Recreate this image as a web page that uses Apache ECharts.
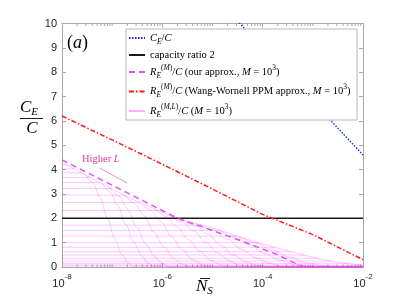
<!DOCTYPE html>
<html>
<head>
<meta charset="utf-8">
<script src="https://cdn.jsdelivr.net/npm/echarts@6/dist/echarts.min.js"></script>
<style>html,body{margin:0;padding:0;background:#fff}#c{width:395px;height:305px}</style>
</head>
<body>
<div id="c"></div>
<script>
// x values are log10(N_S)
const xTickExps = [-8, -6, -4, -2];
const yTicks = [0, 1, 2, 3, 4, 5, 6, 7, 8, 9, 10];
const ceOverC = [[-5, 11.2], [-4, 9.0], [-3, 6.8], [-2, 4.6]];
const capacityRatio = [[-8, 2], [-2, 2]];
const ourApprox = [[-8, 4.4], [-7, 3.36], [-6, 2.32], [-5.7, 2.0], [-5, 1.5], [-4.2, 0.9], [-3.7, 0.5], [-3.4, 0.2], [-3.2, 0.02]];
const wangWornell = [[-8, 6.2], [-7, 5.22], [-6, 4.22], [-5, 3.2], [-4, 2.16], [-3, 1.33], [-2, 0.3]];
const rmlEnvelope = [[-8, 4.3], [-7.5, 3.75], [-7, 3.2], [-6.5, 2.7], [-6, 2.25], [-5.7, 2.0], [-5, 1.6], [-4.2, 1.07], [-3.7, 0.78], [-3, 0.4], [-2.5, 0.2], [-2, 0.08]];
const rmlDrops = [
  [[-7.52,3.77],[-7.38,3.44],[-7.24,2.84],[-7.09,1.98],[-6.95,1.17],[-6.81,0.51],[-6.68,0.17],[-6.57,0],[-2,0]],
  [[-7.2,3.42],[-7.04,3.08],[-6.89,2.53],[-6.73,1.76],[-6.57,1.02],[-6.41,0.45],[-6.28,0.15],[-6.15,0],[-2,0]],
  [[-7.05,3.26],[-6.87,2.92],[-6.69,2.37],[-6.51,1.63],[-6.33,0.94],[-6.15,0.41],[-5.99,0.13],[-5.85,0],[-2,0]],
  [[-6.75,2.95],[-6.56,2.62],[-6.36,2.11],[-6.17,1.44],[-5.97,0.82],[-5.78,0.35],[-5.61,0.12],[-5.45,0],[-2,0]],
  [[-6.45,2.66],[-6.24,2.35],[-6.03,1.87],[-5.82,1.26],[-5.61,0.72],[-5.4,0.31],[-5.22,0.1],[-5.05,0],[-2,0]],
  [[-6.15,2.39],[-5.93,2.08],[-5.7,1.64],[-5.48,1.12],[-5.25,0.64],[-5.03,0.27],[-4.83,0.09],[-4.65,0],[-2,0]],
  [[-5.85,2.13],[-5.61,1.85],[-5.37,1.48],[-5.13,1.0],[-4.89,0.57],[-4.65,0.23],[-4.44,0.07],[-4.25,0],[-2,0]],
  [[-5.6,1.94],[-5.35,1.71],[-5.09,1.35],[-4.84,0.89],[-4.58,0.49],[-4.33,0.2],[-4.1,0.06],[-3.9,0],[-2,0]],
  [[-5.25,1.74],[-4.97,1.5],[-4.7,1.15],[-4.42,0.73],[-4.14,0.38],[-3.86,0.15],[-3.62,0.04],[-3.4,0],[-2,0]],
  [[-4.86,1.51],[-4.56,1.24],[-4.26,0.91],[-3.96,0.56],[-3.66,0.28],[-3.36,0.1],[-3.1,0.03],[-2.86,0],[-2,0]],
  [[-4.46,1.24],[-4.13,0.98],[-3.8,0.69],[-3.47,0.4],[-3.14,0.18],[-2.81,0.05],[-2.52,0.01],[-2.26,0],[-2,0]]
];
const rmlLevels =    [4.18, 4.03, 3.87, 3.68, 3.47, 3.22, 2.95, 2.65, 2.32, 2.0, 1.72, 1.5, 1.27, 1.0, 0.81, 0.63, 0.49, 0.36, 0.25, 0.15, 0.08, 0.04];
const rmlLevelEnds = [-7.89, -7.75, -7.61, -7.44, -7.25, -7.02, -6.75, -6.44, -6.08, -5.7, -5.21, -4.85, -4.5, -4.08, -3.75, -3.42, -3.17, -2.9, -2.63, -2.29, -2.0, -2.0];

const minorTickExps = [];
for (let e = -8; e <= -3; e++) {
  for (let k = 1; k <= 9; k++) {
    if (k === 1 && e % 2 === 0) continue;
    minorTickExps.push(e + Math.log10(k));
  }
}

const axisGray = '#a8a8a8';
const labelColor = '#262626';
const serif = 'Liberation Serif';
const pinkText = '#e2399c';
const thin = { color: 'rgba(255,0,255,0.32)', width: 0.7 };

const series = [];
series.push({ type: 'line', name: 'rml', data: rmlEnvelope, symbol: 'none', smooth: 0.3, lineStyle: thin, itemStyle: { color: thin.color }, z: 2, silent: true });
rmlLevels.forEach((h, i) => {
  series.push({ type: 'line', name: 'rml', data: [[-8, h], [rmlLevelEnds[i], h]], symbol: 'none', lineStyle: thin, itemStyle: { color: thin.color }, z: 2, silent: true });
});
rmlDrops.forEach(d => {
  series.push({ type: 'line', name: 'rml', data: d, symbol: 'none', smooth: 0.35, smoothMonotone: 'x', lineStyle: thin, itemStyle: { color: thin.color }, z: 2, silent: true });
});
series.push({
  type: 'line', name: 'cap', data: capacityRatio, symbol: 'none',
  lineStyle: { color: '#1a1a1a', width: 1.6 }, itemStyle: { color: '#1a1a1a' }, z: 3, silent: true,
  markLine: {
    silent: true, symbol: ['none', 'arrow'], symbolSize: [0, 6], label: { show: false },
    lineStyle: { color: '#ea74b4', width: 0.8, type: 'solid' },
    data: [[{ coord: [-6.7, 3.45] }, { coord: [-7.26, 4.07] }]]
  }
});
series.push({ type: 'line', name: 'ours', data: ourApprox, symbol: 'none', lineStyle: { color: '#dd55ee', width: 1.5, type: [6, 4] }, itemStyle: { color: '#dd55ee' }, z: 4, silent: true });
series.push({ type: 'line', name: 'ww', data: wangWornell, symbol: 'none', lineStyle: { color: '#ff1a1a', width: 1.5, type: [5, 2, 1.5, 2] }, itemStyle: { color: '#ff1a1a' }, z: 4, silent: true });
series.push({ type: 'line', name: 'ce', data: ceOverC, symbol: 'none', lineStyle: { color: '#1f1fff', width: 1.4, type: [1.5, 1.5] }, itemStyle: { color: '#1f1fff' }, z: 4, silent: true });
series.push({
  type: 'custom', silent: true, z: 1, clip: false,
  data: minorTickExps.map(v => [v, 0]),
  encode: { x: 0, y: 1 },
  renderItem: function (params, api) {
    const b = api.coord([api.value(0), 0]);
    const t = api.coord([api.value(0), 10]);
    return { type: 'group', children: [
      { type: 'line', shape: { x1: b[0], y1: b[1], x2: b[0], y2: b[1] - 2.5 }, style: { stroke: axisGray, lineWidth: 1 } },
      { type: 'line', shape: { x1: t[0], y1: t[1], x2: t[0], y2: t[1] + 2.5 }, style: { stroke: axisGray, lineWidth: 1 } }
    ] };
  }
});

const legendText = {
  ce: '{i|C}{sub|E}{r|/}{i|C}',
  cap: '{r|capacity ratio 2}',
  ours: '{i|R}{sub|E}{sup|(}{supi|M}{sup|)}{r|/}{i|C}{r| (our approx., }{i|M}{r| = 10}{sup|3}{r|)}',
  ww: '{i|R}{sub|E}{sup|(}{supi|M}{sup|)}{r|/}{i|C}{r| (Wang-Wornell PPM approx., }{i|M}{r| = 10}{sup|3}{r|)}',
  rml: '{i|R}{sub|E}{sup|(}{supi|M,L}{sup|)}{r|/}{i|C}{r| (}{i|M}{r| = 10}{sup|3}{r|)}'
};
const lrich = {
  r: { fontFamily: serif, fontSize: 10.5, lineHeight: 16, verticalAlign: 'middle', color: '#000' },
  i: { fontFamily: serif, fontSize: 10.5, fontStyle: 'italic', lineHeight: 16, verticalAlign: 'middle', color: '#000' },
  sub: { fontFamily: serif, fontSize: 7.5, fontStyle: 'italic', lineHeight: 9, verticalAlign: 'bottom', color: '#000' },
  sup: { fontFamily: serif, fontSize: 7.5, lineHeight: 9, verticalAlign: 'top', color: '#000' },
  supi: { fontFamily: serif, fontSize: 7.5, fontStyle: 'italic', lineHeight: 9, verticalAlign: 'top', color: '#000' }
};

const chart = echarts.init(document.getElementById('c'), null, { renderer: 'canvas' });
chart.setOption({
  animation: false,
  backgroundColor: '#fff',
  grid: { left: 62, right: 32, top: 23.5, bottom: 38, containLabel: false },
  xAxis: [
    {
      type: 'value', min: xTickExps[0], max: xTickExps[xTickExps.length - 1], interval: 2, position: 'bottom',
      axisLine: { show: true, onZero: false, lineStyle: { color: axisGray, width: 1 } },
      axisTick: { show: true, inside: true, length: 4, lineStyle: { color: axisGray } },
      splitLine: { show: false },
      axisLabel: {
        margin: 6,
        formatter: v => '{b|10}{s|' + v + '}',
        rich: {
          b: { fontFamily: 'Liberation Sans', fontSize: 11, color: labelColor, lineHeight: 16, verticalAlign: 'bottom' },
          s: { fontFamily: 'Liberation Sans', fontSize: 8, color: labelColor, lineHeight: 10, verticalAlign: 'top' }
        }
      }
    },
    {
      type: 'value', min: -8, max: -2, interval: 2, position: 'top',
      axisLine: { show: true, onZero: false, lineStyle: { color: axisGray, width: 1 } },
      axisTick: { show: true, inside: true, length: 4, lineStyle: { color: axisGray } },
      axisLabel: { show: false }, splitLine: { show: false }
    }
  ],
  yAxis: [
    {
      type: 'value', min: yTicks[0], max: yTicks[yTicks.length - 1], interval: 1, position: 'left',
      axisLine: { show: true, onZero: false, lineStyle: { color: axisGray, width: 1 } },
      axisTick: { show: true, inside: true, length: 4, lineStyle: { color: axisGray } },
      splitLine: { show: false },
      axisLabel: { margin: 5, fontFamily: 'Liberation Sans', fontSize: 11, color: labelColor }
    },
    {
      type: 'value', min: 0, max: 10, interval: 1, position: 'right',
      axisLine: { show: true, onZero: false, lineStyle: { color: axisGray, width: 1 } },
      axisTick: { show: true, inside: true, length: 4, lineStyle: { color: axisGray } },
      axisLabel: { show: false }, splitLine: { show: false }
    }
  ],
  legend: {
    show: true, orient: 'vertical', left: 126, top: 29, padding: [3.5, 3, 2, 2], itemGap: 3.5,
    itemWidth: 16, itemHeight: 8, selectedMode: false, z: 10,
    itemStyle: { opacity: 0, borderWidth: 0 },
    data: ['ce', 'cap', 'ours', 'ww', 'rml'],
    formatter: n => legendText[n],
    textStyle: { rich: lrich }
  },
  graphic: [
    { type: 'rect', z: 5, shape: { x: 126, y: 29, width: 231, height: 91 }, style: { fill: '#fff', stroke: axisGray, lineWidth: 0.8 } },
    { type: 'text', z: 6, x: 67, y: 43, style: { text: '{r|(}{i|a}{r|)}', verticalAlign: 'middle', align: 'left',
      rich: { r: { fontFamily: serif, fontSize: 18, fill: '#000' }, i: { fontFamily: serif, fontSize: 18, fontStyle: 'italic', fill: '#000' } } } },
    { type: 'text', z: 6, x: 82, y: 159, style: { text: '{r|Higher }{i|L}', verticalAlign: 'middle', align: 'left', fill: pinkText,
      rich: { r: { fontFamily: serif, fontSize: 10.5, fill: pinkText, color: pinkText }, i: { fontFamily: serif, fontSize: 10.5, fontStyle: 'italic', fill: pinkText, color: pinkText } } } },
    { type: 'text', z: 6, x: 20, y: 108, style: { text: '{i|C}{s|E}', verticalAlign: 'middle', align: 'left',
      rich: { i: { fontFamily: serif, fontSize: 17, fontStyle: 'italic', lineHeight: 20, verticalAlign: 'middle', fill: '#000' },
              s: { fontFamily: serif, fontSize: 11, fontStyle: 'italic', lineHeight: 10, verticalAlign: 'bottom', fill: '#000' } } } },
    { type: 'line', z: 6, shape: { x1: 20, y1: 118.5, x2: 43, y2: 118.5 }, style: { stroke: '#000', lineWidth: 0.9 } },
    { type: 'text', z: 6, x: 32, y: 129, style: { text: 'C', font: 'italic 17px "Liberation Serif"', fill: '#000', align: 'center', verticalAlign: 'middle' } },
    { type: 'text', z: 6, x: 196, y: 287, style: { text: '{i|N}{s|S}', verticalAlign: 'middle', align: 'left',
      rich: { i: { fontFamily: serif, fontSize: 17, fontStyle: 'italic', lineHeight: 20, verticalAlign: 'middle', fill: '#000' },
              s: { fontFamily: serif, fontSize: 11, fontStyle: 'italic', lineHeight: 10, verticalAlign: 'bottom', fill: '#000' } } } },
    { type: 'line', z: 6, shape: { x1: 200, y1: 278.5, x2: 210, y2: 278.5 }, style: { stroke: '#000', lineWidth: 0.9 } }
  ],
  series: series
});
</script>
</body>
</html>
